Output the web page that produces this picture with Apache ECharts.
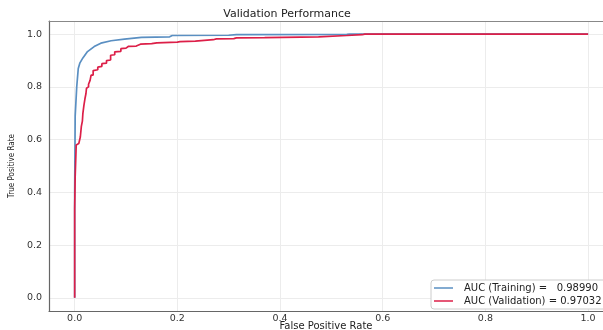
<!DOCTYPE html>
<html><head><meta charset="utf-8">
<script src="https://cdn.jsdelivr.net/npm/echarts@6/dist/echarts.min.js"></script>
<style>html,body{margin:0;padding:0;background:#fff}#c{width:603px;height:330px}</style>
</head><body><div id="c"></div>
<script>
const chartTitle = 'Validation Performance';
const xName = 'False Positive Rate';
const yName = 'True Positive Rate';
const xTicks = [0, 0.2, 0.4, 0.6, 0.8, 1.0];
const yTicks = [0, 0.2, 0.4, 0.6, 0.8, 1.0];
const seriesNames = ['AUC (Training) =   0.98990', 'AUC (Validation) = 0.97032'];
const trainingRoc = [
  [0,0],[0,0.40],[0.001,0.40],[0.001,0.69],[0.003,0.69],[0.004,0.80],[0.006,0.80],[0.007,0.87],
  [0.010,0.89],[0.016,0.91],[0.025,0.934],[0.038,0.953],[0.051,0.966],[0.071,0.975],[0.097,0.981],
  [0.13,0.988],[0.185,0.990],[0.19,0.995],[0.30,0.996],[0.315,0.998],[0.53,0.999],[0.535,1.0],[1,1]
];
const validationRoc = [
  [0,0],[0,0.34],[0.001,0.34],[0.001,0.46],[0.003,0.46],[0.003,0.58],[0.008,0.585],[0.011,0.585],
  [0.011,0.61],[0.013,0.61],[0.013,0.65],[0.015,0.65],[0.015,0.67],[0.016,0.70],[0.018,0.73],
  [0.020,0.755],[0.022,0.775],[0.023,0.795],[0.023,0.80],[0.027,0.80],[0.027,0.81],[0.030,0.81],
  [0.030,0.825],[0.032,0.825],[0.032,0.845],[0.036,0.845],[0.036,0.862],[0.045,0.865],[0.045,0.875],
  [0.053,0.878],[0.053,0.888],[0.062,0.89],[0.062,0.90],[0.070,0.902],[0.070,0.92],[0.078,0.922],
  [0.078,0.933],[0.090,0.935],[0.090,0.945],[0.100,0.947],[0.105,0.954],[0.12,0.955],[0.128,0.962],
  [0.15,0.964],[0.16,0.967],[0.20,0.970],[0.205,0.972],[0.235,0.974],[0.237,0.978],[0.27,0.979],
  [0.276,0.982],[0.31,0.983],[0.315,0.986],[0.37,0.987],[0.372,0.989],[0.475,0.990],[0.478,0.994],
  [0.53,0.995],[0.532,0.997],[0.56,0.998],[0.565,1.0],[1,1]
];
const colors = ['#5a8fc2', '#dc1f48'];

const font = 'DejaVu Sans';
const chart = echarts.init(document.getElementById('c'), null, {renderer:'canvas'});
const fmt = v => v.toFixed(1);
const xMin = -0.05, xMax = 1.029, yMin = -0.05, yMax = 1.05;
chart.setOption({
  animation: false,
  color: colors,
  title: {text: chartTitle, left: 282, textAlign: 'center', top: 4,
    textStyle: {fontFamily: font, fontSize: 11, fontWeight: 'normal', color: '#222'}},
  grid: {left: 49, top: 21, bottom: 19, right: 0, show: false, containLabel: false, outerBoundsMode: 'none'},
  legend: {
    left: 431, top: 280, orient: 'vertical', padding: [3, 6, 3, 3], itemGap: 3,
    itemWidth: 19, itemHeight: 2, icon: 'rect', backgroundColor: '#fff', borderColor: '#ccc', borderWidth: 1, borderRadius: 3,
    itemStyle: {opacity: 0.75}, z: 4,
    textStyle: {fontFamily: font, fontSize: 10, color: '#222', padding: [0, 0, 0, 6]},
    data: seriesNames
  },
  xAxis: [{
    type: 'value', min: xMin, max: xMax, name: xName, nameLocation: 'middle', nameGap: 10, nameMoveOverlap: false, z: 6,
    nameTextStyle: {fontFamily: font, fontSize: 10, color: '#222', verticalAlign: 'top'},
    axisLine: {show: true, onZero: false, lineStyle: {color: '#666', width: 1.2}},
    axisTick: {show: false, customValues: xTicks},
    axisLabel: {customValues: xTicks, formatter: fmt, fontFamily: font, fontSize: 9.5, color: '#333', margin: 3, hideOverlap: false},
    splitLine: {show: false}
  }, {
    type: 'value', position: 'top', min: xMin, max: xMax, z: 0,
    axisLine: {show: true, onZero: false, lineStyle: {color: '#888', width: 1.2}},
    axisTick: {show: false, customValues: xTicks}, axisLabel: {show: false, customValues: xTicks},
    splitLine: {show: true, lineStyle: {color: '#ececec', width: 1}}
  }],
  yAxis: {
    type: 'value', min: yMin, max: yMax, name: yName, nameLocation: 'middle', nameGap: 31,
    nameTextStyle: {fontFamily: 'DejaVu Sans Condensed, Liberation Sans, sans-serif', fontSize: 8, color: '#222'},
    axisLine: {show: true, onZero: false, lineStyle: {color: '#666', width: 1.2}},
    axisTick: {show: false, customValues: yTicks},
    axisLabel: {customValues: yTicks, formatter: fmt, fontFamily: font, fontSize: 9.5, color: '#333', margin: 7},
    splitLine: {show: true, lineStyle: {color: '#ececec', width: 1}}
  },
  series: [
    {name: seriesNames[0], type: 'line', data: trainingRoc, showSymbol: false, symbol: 'none',
      lineStyle: {width: 1.7, color: colors[0]}, z: 2},
    {name: seriesNames[1], type: 'line', data: validationRoc, showSymbol: false, symbol: 'none',
      lineStyle: {width: 1.7, color: colors[1]}, z: 3}
  ]
});
</script></body></html>
